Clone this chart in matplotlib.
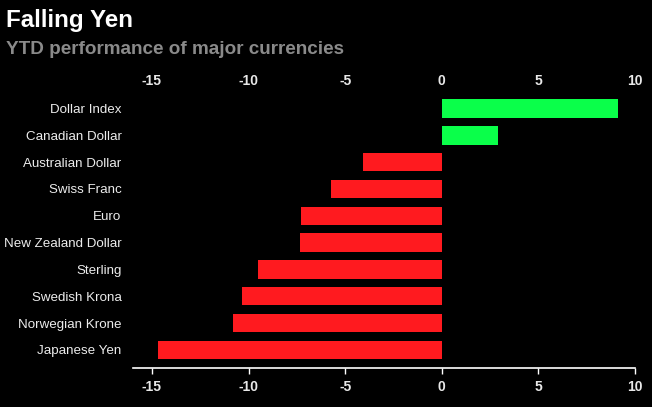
import numpy as np
import matplotlib
matplotlib.use('Agg')
import matplotlib.pyplot as plt

plt.rcParams['font.family'] = ['Liberation Sans', 'DejaVu Sans']

currencies = ['Japanese Yen', 'Norwegian Krone', 'Swedish Krona', 'Sterling',
              'New Zealand Dollar', 'Euro', 'Swiss Franc', 'Australian Dollar',
              'Canadian Dollar', 'Dollar Index']
ytd_change = [-14.67, -10.81, -10.35, -9.50, -7.35, -7.30, -5.71, -4.08, 2.89, 9.10]
xticks = [-15, -10, -5, 0, 5, 10]

green = '#0aff4a'
red = '#ff1a1f'
colors = [green if v > 0 else red for v in ytd_change]

fig = plt.figure(figsize=(6.52, 4.07), dpi=100, facecolor='black')
ax = fig.add_axes([0.2034, 0.097, 0.7706, 0.672])
ax.set_facecolor('black')

ypos = np.arange(len(currencies))
ax.barh(ypos, ytd_change, height=0.69, color=colors)

ax.set_xlim(-16, 10)
ax.set_ylim(-0.66, 9.54)
ax.set_yticks(ypos)
ax.set_yticklabels(currencies)
ax.set_xticks(xticks)
ax.set_xticklabels([str(t) for t in xticks], fontweight='bold')

for side in ['top', 'right', 'left']:
    ax.spines[side].set_visible(False)
ax.spines['bottom'].set_color('white')
ax.spines['bottom'].set_linewidth(1.2)

ax.tick_params(axis='y', length=0, pad=8, labelsize=9.6, labelcolor='#ececec')
ax.tick_params(axis='x', bottom=True, top=False, labelbottom=True,
               length=4, width=1, color='white', pad=5, labelsize=10,
               labelcolor='#e8e8e8')

# top labels without tick marks
top = ax.secondary_xaxis('top')
top.set_xticks(xticks)
top.set_xticklabels([str(t) for t in xticks], fontweight='bold')
top.spines['top'].set_visible(False)
top.tick_params(axis='x', length=0, pad=4.5, labelsize=10, labelcolor='#e8e8e8')

fig.text(0.009, 1 - 27 / 407, 'Falling Yen', color='white', fontsize=17.4,
         fontweight='bold', va='baseline', ha='left')
fig.text(0.009, 1 - 54 / 407, 'YTD performance of major currencies', color='#8a8a8a',
         fontsize=13.6, fontweight='bold', va='baseline', ha='left')

plt.savefig('out.png', dpi=100, facecolor='black')
plt.close()
